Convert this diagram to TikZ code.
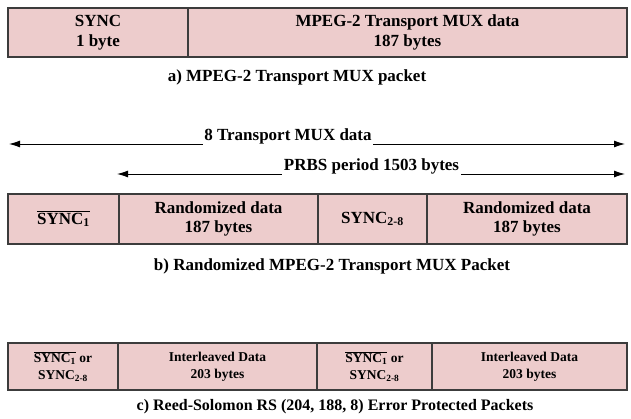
\documentclass[tikz,border=0pt]{standalone}
\usepackage{fontspec}
\setmainfont{Liberation Serif}
\usetikzlibrary{arrows.meta,positioning}
\definecolor{cellpink}{RGB}{237,204,204}
\definecolor{cellline}{RGB}{60,60,60}
\newcommand{\syncbar}{$\overline{\hbox{SYNC\textsubscript{1}}}$}
\tikzset{
  cell/.style={draw=cellline, line width=1.3pt, fill=cellpink, outer sep=0pt,
    inner sep=0pt, align=center, anchor=north west,
    font=\fontsize{17}{19.5}\selectfont\bfseries},
  smallcell/.style={cell, font=\fontsize{13.5}{17}\selectfont\bfseries},
  spanline/.style={line width=0.9pt, {Latex[length=11pt,width=7pt]}-{Latex[length=11pt,width=7pt]}},
  spantext/.style={fill=white, inner sep=1.5pt, anchor=base,
    font=\fontsize{17}{19}\selectfont\bfseries},
  caption/.style={inner sep=0pt, font=\fontsize{17}{19}\selectfont\bfseries}
}
\begin{document}
\begin{tikzpicture}[x=1pt,y=-1pt]
\useasboundingbox (0,0) rectangle (631,418);
% a) plain packet
\node[cell, minimum width=180pt, minimum height=49pt] (a1) at (8,8) {SYNC\\1 byte};
\node[cell, minimum width=439pt, minimum height=49pt, right=0pt of a1] (a2) {MPEG-2 Transport MUX data\\187 bytes};
\node[caption] (capa) at (297,77) {a) MPEG-2 Transport MUX packet};
% spans above the randomized packet
\coordinate (l1) at (9,144);
\coordinate (r1) at (625,144);
\draw[spanline] (l1) -- (r1);
\node[spantext] (t1) at (288,140) {8 Transport MUX data};
\coordinate (l2) at (117,174);
\coordinate (r2) at (625,174);
\draw[spanline] (l2) -- (r2);
\node[spantext] (t2) at (371.5,170) {PRBS period 1503 bytes};
% b) randomized packet
\node[cell, minimum width=111pt, minimum height=50pt] (b1) at (8,194) {\syncbar};
\node[cell, minimum width=199pt, minimum height=50pt, right=0pt of b1] (b2) {Randomized data\\187 bytes};
\node[cell, minimum width=109pt, minimum height=50pt, right=0pt of b2] (b3) {SYNC\textsubscript{2-8}};
\node[cell, minimum width=200pt, minimum height=50pt, right=0pt of b3] (b4) {Randomized data\\187 bytes};
\node[caption] (capb) at (332,266) {b) Randomized MPEG-2 Transport MUX Packet};
% c) RS protected packets
\node[smallcell, minimum width=110pt, minimum height=47pt] (c1) at (8,343) {\syncbar{} or\\SYNC\textsubscript{2-8}};
\node[smallcell, minimum width=199pt, minimum height=47pt, right=0pt of c1] (c2) {Interleaved Data\\203 bytes};
\node[smallcell, minimum width=115pt, minimum height=47pt, right=0pt of c2] (c3) {\syncbar{} or\\SYNC\textsubscript{2-8}};
\node[smallcell, minimum width=195pt, minimum height=47pt, right=0pt of c3] (c4) {Interleaved Data\\203 bytes};
\node[caption, font=\fontsize{16}{18}\selectfont\bfseries] (capc) at (335,407) {c) Reed-Solomon RS (204, 188, 8) Error Protected Packets};
\end{tikzpicture}
\end{document}
